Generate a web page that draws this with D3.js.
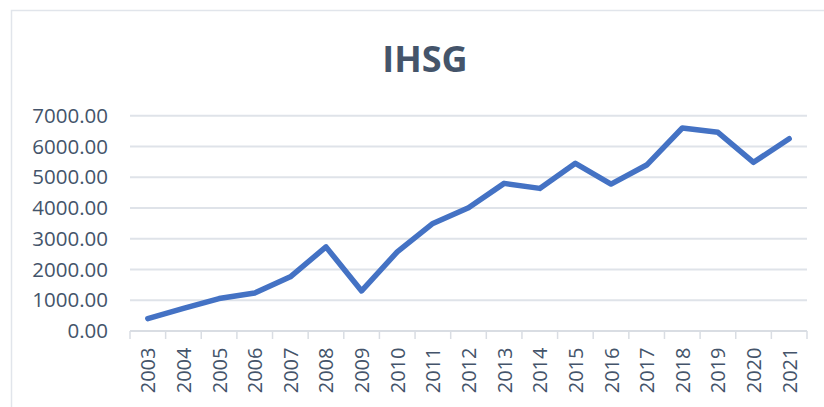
<!DOCTYPE html>
<html>
<head>
<meta charset="utf-8">
<script src="https://cdn.jsdelivr.net/npm/d3@7"></script>
<style>
  body { margin: 0; background: #fff; }
  svg { display: block; font-family: "Open Sans", sans-serif; }
</style>
</head>
<body>
<div id="chart"></div>
<script>
// IHSG yearly values
const years = ['2003', '2004', '2005', '2006', '2007', '2008', '2009', '2010', '2011', '2012',
  '2013', '2014', '2015', '2016', '2017', '2018', '2019', '2020', '2021'];
const ihsg = [404, 735, 1055, 1235, 1760, 2735, 1303, 2573, 3497, 4005,
  4800, 4637, 5451, 4777, 5396, 6600, 6460, 5484, 6252];
const yTicks = [0, 1000, 2000, 3000, 4000, 5000, 6000, 7000];
const title = 'IHSG';

const W = 824, H = 407;
const margin = { top: 116, left: 130, right: 17, bottom: 76 };
const textColor = '#44546A';

const svg = d3.select('#chart').append('svg')
  .attr('width', W)
  .attr('height', H);

// chart area border
svg.append('rect')
  .attr('x', 11.5).attr('y', 10.5)
  .attr('width', W).attr('height', H)
  .attr('fill', 'none')
  .attr('stroke', '#E1E5EB')
  .attr('stroke-width', 1.5);

svg.append('text')
  .attr('x', 425).attr('y', 71.5)
  .attr('text-anchor', 'middle')
  .attr('font-size', 36)
  .attr('font-weight', 'bold')
  .attr('fill', textColor)
  .text(title);

const xScale = d3.scaleBand()
  .domain(years)
  .range([margin.left, W - margin.right]);

const yScale = d3.scaleLinear()
  .domain([0, 7000])
  .range([H - margin.bottom, margin.top - 0.3]);

const g = svg.append('g');

// gridlines
g.selectAll('.grid')
  .data(yTicks.filter(d => d > 0))
  .enter().append('line')
    .attr('x1', margin.left)
    .attr('x2', W - margin.right)
    .attr('y1', d => yScale(d))
    .attr('y2', d => yScale(d))
    .attr('stroke', '#DFE3E9')
    .attr('stroke-width', 2);

// y axis labels
const yAxis = g.append('g')
  .attr('transform', 'translate(' + margin.left + ',0)')
  .call(d3.axisLeft(yScale).tickValues(yTicks).tickFormat(d => d.toFixed(2)).tickSize(0).tickPadding(22));
yAxis.select('.domain').remove();
yAxis.selectAll('text')
  .attr('font-size', 20.5)
  .attr('font-family', '"Open Sans", sans-serif')
  .attr('fill', textColor);

// x axis with band-edge ticks
const xAxisG = g.append('g')
  .attr('transform', 'translate(0,' + yScale(0) + ')');
xAxisG.append('line')
  .attr('x1', margin.left).attr('x2', W - margin.right)
  .attr('stroke', '#D9DDE3').attr('stroke-width', 2);
const edges = years.map(d => xScale(d)).concat([W - margin.right]);
xAxisG.selectAll('.tick')
  .data(edges)
  .enter().append('line')
    .attr('x1', d => d).attr('x2', d => d)
    .attr('y1', 0).attr('y2', 8)
    .attr('stroke', '#D9DDE3').attr('stroke-width', 1.5);
xAxisG.selectAll('.label')
  .data(years)
  .enter().append('text')
    .attr('transform', d => 'translate(' + (xScale(d) + xScale.bandwidth() / 2 + 7.5) + ',16.5) rotate(-90)')
    .attr('text-anchor', 'end')
    .attr('font-size', 20)
    .attr('fill', textColor)
    .text(d => d);

// the line
const line = d3.line()
  .x((d, i) => xScale(years[i]) + xScale.bandwidth() / 2)
  .y(d => yScale(d));

g.append('path')
  .datum(ihsg)
  .attr('d', line)
  .attr('fill', 'none')
  .attr('stroke', '#4472C4')
  .attr('stroke-width', 5.5)
  .attr('stroke-linejoin', 'round')
  .attr('stroke-linecap', 'round');
</script>
</body>
</html>
